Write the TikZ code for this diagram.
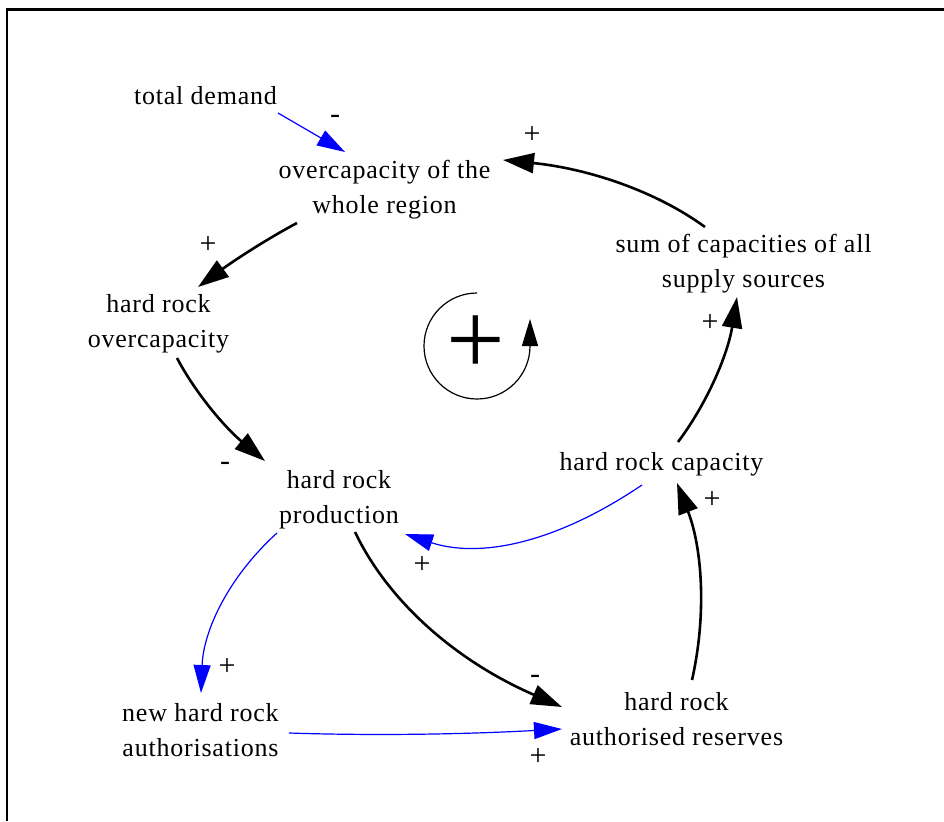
\documentclass[tikz,border=0pt]{standalone}
\usepackage{fontspec}
\setmainfont{Liberation Serif}[LetterSpace=3]
\usetikzlibrary{arrows.meta,calc}
\begin{document}
\begin{tikzpicture}[x=1pt,y=-1pt,
  txt/.style={font=\fontsize{26}{35}\selectfont, align=center, inner sep=0pt},
  pol/.style={font=\fontsize{30}{32}\selectfont, inner sep=0pt},
  blk/.style={draw=black, line width=2.6pt, -{Triangle[length=31pt,width=20pt]}},
  blu/.style={draw=blue, fill=none, line width=1.2pt, -{Triangle[length=28pt,width=17pt,fill=blue]}},
]
\useasboundingbox (0,0) rectangle (944,821);
\fill[white] (0,0) rectangle (944,821);
% frame
\draw[line width=2.5pt] (7,821) -- (7,9.5) -- (944,9.5);

% variables
\node[txt] (TD) at (205.5,96) {total demand};
\node[txt] (OC) at (384.5,190) {overcapacity of the\\whole region};
\node[txt] (HO) at (158.5,323.5) {hard rock\\overcapacity};
\node[txt] (HP) at (339,499.5) {hard rock\\production};
\node[txt] (SC) at (743.5,263.5) {sum of capacities of all\\supply sources};
\node[txt] (HC) at (661.5,464) {hard rock capacity};
\node[txt] (NA) at (200.5,730.5) {new hard rock\\authorisations};
\node[txt] (AR) at (676.5,719) {hard rock\\authorised reserves};

% loop identifier
\node[font=\fontsize{104}{104}\selectfont, inner sep=0pt] (LP) at (476,345) {+};
\draw[line width=1.2pt, -{Triangle[length=27pt,width=16pt]}] (477,293) arc[start angle=-90, end angle=-360, radius=53] -- ++(0,-27);

% connectors
\draw[blu] ($(TD.center)+(72.5,17)$) -- ($(OC.center)+(-39.5,-38)$);
\draw[blk] ($(OC.center)+(-87.5,33)$) .. controls (265,240) and (232,262) .. ($(HO.center)+(39.5,-36.5)$);
\draw[blk] ($(HO.center)+(18.5,34.5)$) .. controls (196,394) and (225.5,428) .. ($(HP.center)+(-74,-38.5)$);
\draw[blk] ($(SC.center)+(-38.5,-36.5)$) .. controls (655.5,190.9) and (588,168.6) .. ($(OC.center)+(118.5,-30)$);
\draw[blk] ($(HC.center)+(16.5,-22)$) .. controls (708.2,401.7) and (727.9,353.4) .. ($(SC.center)+(-6.5,33.5)$);
\draw[blk] ($(AR.center)+(15.5,-39)$) .. controls (707,613.2) and (702,547.5) .. ($(HC.center)+(15.5,19)$);
\draw[blu] ($(HC.center)+(-19.5,21)$) .. controls (552.9,545.1) and (478,558) .. ($(HP.center)+(66,34.5)$);
\draw[blk] ($(HP.center)+(16,32.5)$) .. controls (389.2,603.5) and (458.2,661.9) .. ($(AR.center)+(-114.5,-12)$);
\draw[blu] ($(HP.center)+(-62,33.5)$) .. controls (228.9,576.6) and (203.5,629.9) .. ($(NA.center)+(0.5,-37.5)$);
\draw[blu] ($(NA.center)+(88.5,2.5)$) .. controls (380,736) and (470,734) .. ($(AR.center)+(-114.5,10)$);

% polarities
\node[pol] (p1) at (335,119.5) {-};
\node[pol] (p2) at (208,245) {+};
\node[pol] (p3) at (225,466.5) {-};
\node[pol] (p4) at (532,135) {+};
\node[pol] (p5) at (710,323) {+};
\node[pol] (p6) at (712,500) {+};
\node[pol] (p7) at (422,565) {+};
\node[pol] (p8) at (535,679.5) {-};
\node[pol] (p9) at (227,667) {+};
\node[pol] (p10) at (538,757) {+};
\end{tikzpicture}
\end{document}
